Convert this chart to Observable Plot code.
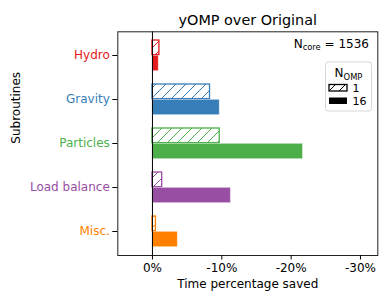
<!DOCTYPE html>
<html><head><meta charset="utf-8">
<script src="https://cdn.jsdelivr.net/npm/d3@7"></script>
<script src="https://cdn.jsdelivr.net/npm/@observablehq/plot@0.6"></script>
<style>
html,body{margin:0;padding:0;background:#fff;}
svg{font-family:"DejaVu Sans",sans-serif;}
</style>
</head><body>
<div id="chart"></div>
<script>
const categories = ["Hydro", "Gravity", "Particles", "Load balance", "Misc."];
const saved1 = [1.0, 8.3, 9.7, 1.4, 0.5];
const saved16 = [0.9, 9.7, 21.7, 11.3, 3.65];
const colors = ["#e41a1c", "#377eb8", "#4daf4a", "#984ea3", "#ff7f00"];
const xTicks = [0, 10, 20, 30];
const xTickLabels = ["0%", "-10%", "-20%", "-30%"];
const ompLevels = ["1", "16"];

const rows1 = categories.map((c, i) => ({cat: c, v: saved1[i], i}));
const rows16 = categories.map((c, i) => ({cat: c, v: saved16[i], i}));
const colorOf = c => colors[categories.indexOf(c)];

const plot = Plot.plot({
  width: 390, height: 304,
  marginLeft: 117.3, marginRight: 12.7, marginTop: 31.3, marginBottom: 49,
  style: {fontFamily: "DejaVu Sans, sans-serif", fontSize: "12px", background: "#fff", color: "black"},
  x: {domain: [-5, 32.5]},
  y: {domain: categories, padding: 0},
  marks: [
    Plot.barX(rows1, {x: "v", y: "cat", fill: d => `url(#hatch${d.i})`, stroke: d => colors[d.i], strokeWidth: 1.3, insetTop: 7, insetBottom: 22.4}),
    Plot.barX(rows16, {x: "v", y: "cat", fill: d => colors[d.i], stroke: "white", strokeOpacity: 0.3, strokeWidth: 1, insetTop: 22.4, insetBottom: 6.4}),
    Plot.ruleX([0], {stroke: "black", strokeWidth: 1}),
    Plot.frame({stroke: "#222", strokeWidth: 1}),
    Plot.axisX({ticks: xTicks, tickFormat: d => xTickLabels[xTicks.indexOf(d)], tickSize: 4.5, tickPadding: 3, label: null, fontSize: 12}),
    Plot.axisY({fill: d => colorOf(d), stroke: "black", tickSize: 5, tickPadding: 3, label: null, fontSize: 12}),
    Plot.text(["yOMP over Original"], {frameAnchor: "top", lineAnchor: "middle", dy: -11.4, fontSize: 14.4, fill: "black"}),
    Plot.text(["Time percentage saved"], {frameAnchor: "bottom", lineAnchor: "middle", dy: 28.2, fontSize: 12, fill: "black"}),
    Plot.text(["Subroutines"], {frameAnchor: "left", dx: -102, rotate: -90, fontSize: 12, fill: "black"})
  ]
});

const svg = d3.select(plot);
const defs = svg.insert("defs", ":first-child");
colors.concat(["black"]).forEach((col, i) => {
  const id = i < colors.length ? `hatch${i}` : "hatchLegend";
  const p = defs.append("pattern").attr("id", id).attr("patternUnits", "userSpaceOnUse")
    .attr("width", 10).attr("height", 10);
  p.append("rect").attr("width", 10).attr("height", 10).attr("fill", "white");
  p.append("path").attr("d", "M0,10L10,0M-2,2L2,-2M8,12L12,8")
    .attr("stroke", col).attr("stroke-width", 1).attr("fill", "none");
});

// annotation N_core = 1536
const ann = svg.append("text").attr("x", 369).attr("y", 47.5).attr("text-anchor", "end")
  .attr("font-size", 12).attr("fill", "black");
ann.append("tspan").text("N");
ann.append("tspan").attr("font-size", 8.4).attr("dy", 2.5).text("core");
ann.append("tspan").attr("dy", -2.5).text(" = 1536");

// legend
const lg = svg.append("g");
lg.append("rect").attr("x", 325.5).attr("y", 62).attr("width", 46).attr("height", 49)
  .attr("rx", 2.5).attr("fill", "white").attr("stroke", "#ccc").attr("stroke-width", 0.8);
const lt = lg.append("text").attr("x", 348.5).attr("y", 77).attr("text-anchor", "middle")
  .attr("font-size", 12).attr("fill", "black");
lt.append("tspan").text("N");
lt.append("tspan").attr("font-size", 8.4).attr("dy", 2.5).text("OMP");
ompLevels.forEach((lab, k) => {
  const y = 84.5 + k * 13;
  lg.append("rect").attr("x", 329).attr("y", y).attr("width", 18).attr("height", 6.5)
    .attr("fill", k === 0 ? "url(#hatchLegend)" : "black").attr("stroke", "black").attr("stroke-width", k === 0 ? 1.3 : 0);
  lg.append("text").attr("x", 352.5).attr("y", y + 7.5).attr("text-anchor", "start")
    .attr("font-size", 11).attr("fill", "black").text(lab);
});

document.getElementById("chart").appendChild(plot);
</script>
</body></html>
